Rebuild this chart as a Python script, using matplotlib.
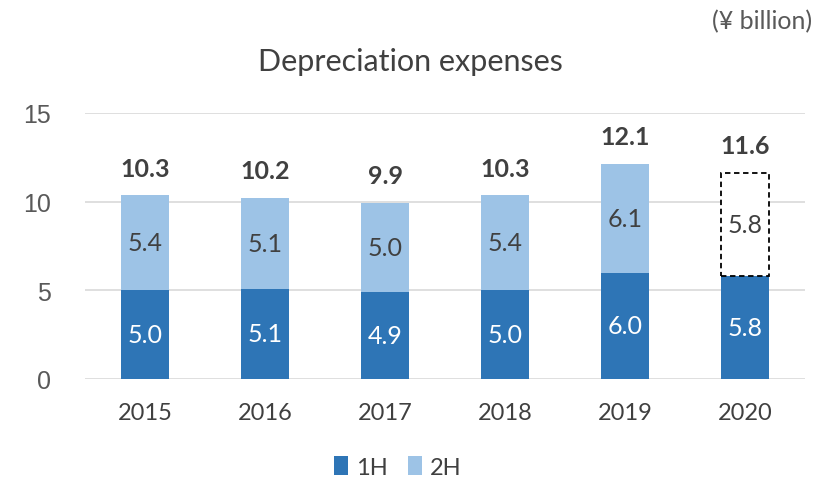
import matplotlib
matplotlib.use("Agg")
import matplotlib.pyplot as plt
from matplotlib.patches import Patch

years = ["2015", "2016", "2017", "2018", "2019", "2020"]
h1 = [5.0, 5.1, 4.9, 5.0, 6.0, 5.8]
h2 = [5.4, 5.1, 5.0, 5.4, 6.1, 5.8]
totals = [10.3, 10.2, 9.9, 10.3, 12.1, 11.6]
yticks = [0, 5, 10, 15]

c1 = "#2E75B6"
c2 = "#9DC3E6"
txt = "#404040"
font = ["Lato", "DejaVu Sans"]

fig = plt.figure(figsize=(8.2, 4.85), dpi=100)
ax = fig.add_axes([0.1037, 0.2165, 0.878, 0.5485])

x = list(range(len(years)))
w = 0.4
ax.bar(x, h1, width=w, color=c1, zorder=3)
for i in x:
    if i == len(years) - 1:
        ax.bar(i, h2[i], bottom=h1[i], width=w, facecolor="white", edgecolor="black",
               linestyle=(0, (3, 2)), linewidth=1.3, zorder=3)
    else:
        ax.bar(i, h2[i], bottom=h1[i], width=w, color=c2, zorder=3)
    ax.text(i, h1[i] / 2, f"{h1[i]:.1f}", ha="center", va="center", color="white",
            fontsize=18, family=font, zorder=4)
    ax.text(i, h1[i] + h2[i] / 2, f"{h2[i]:.1f}", ha="center", va="center", color=txt,
            fontsize=18, family=font, zorder=4)
    ax.text(i, totals[i] + 1.55, f"{totals[i]:.1f}", ha="center", va="center", color=txt,
            fontsize=18, fontweight="bold", family=font, zorder=4)

ax.set_xlim(-0.5, len(years) - 0.5)
ax.set_ylim(0, 15)
ax.set_yticks(yticks)
ax.set_yticklabels([str(t) for t in yticks], family=["Liberation Sans"], fontsize=18, color="#595959")
ax.set_xticks(x)
ax.set_xticklabels(years, family=font, fontsize=17, color=txt)
ax.tick_params(axis="both", length=0)
ax.tick_params(axis="y", pad=24.5)
ax.tick_params(axis="x", pad=16.5)
ax.grid(axis="y", color="#D9D9D9", linewidth=1.2, zorder=0)
for s in ax.spines.values():
    s.set_visible(False)

fig.text(0.5, 0.872, "Depreciation expenses", ha="center", va="center", fontsize=22,
         family=font, color=txt)
fig.text(0.99, 0.955, "(¥ billion)", ha="right", va="center", fontsize=18,
         family=font, color="#595959")

handles = [Patch(facecolor=c1), Patch(facecolor=c2)]
fig.legend(handles, ["1H", "2H"], loc="center", bbox_to_anchor=(0.485, 0.035), ncol=2,
           frameon=False, prop={"family": font, "size": 17}, handlelength=0.6,
           handleheight=0.85, handletextpad=0.35, columnspacing=0.85, labelcolor=txt)

fig.savefig("out.png", dpi=100)
